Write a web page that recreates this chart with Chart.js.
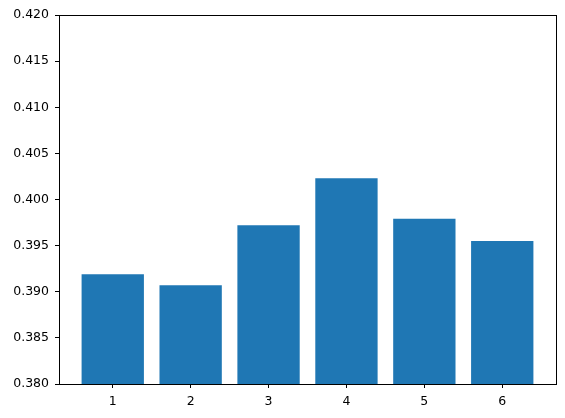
<!DOCTYPE html>
<html>
<head>
  <script src="https://cdn.jsdelivr.net/npm/chart.js@4/dist/chart.umd.min.js"></script>
  <style>
    body { margin: 0; background: #fff; }
    #wrap { width: 565px; height: 418px; }
  </style>
</head>
<body>
<div id="wrap"><canvas id="chartCanvas"></canvas></div>
<script>
  // values
  const categories = [1, 2, 3, 4, 5, 6];
  const values = [0.3919, 0.3907, 0.3972, 0.4023, 0.3979, 0.3955];
  const yTicks = [0.380, 0.385, 0.390, 0.395, 0.400, 0.405, 0.410, 0.415, 0.420];

  // matplotlib-style box around the plot area
  const frame = {
    id: 'frame',
    afterDraw(chart) {
      const a = chart.chartArea, ctx = chart.ctx;
      ctx.save();
      ctx.strokeStyle = '#000';
      ctx.lineWidth = 1;
      ctx.strokeRect(Math.round(a.left) + 0.5, Math.round(a.top) + 0.5,
                     Math.round(a.right - a.left), Math.round(a.bottom - a.top));
      ctx.restore();
    }
  };

  const font = { family: 'DejaVu Sans', size: 12.5 };

  new Chart(document.getElementById('chartCanvas'), {
    type: 'bar',
    data: {
      datasets: [{
        data: categories.map((c, i) => ({ x: c, y: values[i] })),
        backgroundColor: '#1f77b4',
        borderWidth: 0,
        categoryPercentage: 1,
        barPercentage: 0.8
      }]
    },
    options: {
      responsive: true,
      maintainAspectRatio: false,
      animation: false,
      layout: { padding: { top: 15, right: 9, left: 0, bottom: 0 } },
      plugins: { legend: { display: false }, tooltip: { enabled: false } },
      scales: {
        x: {
          type: 'linear',
          offset: false,
          min: 0.31,
          max: 6.69,
          afterBuildTicks: s => { s.ticks = categories.map(v => ({ value: v })); },
          afterFit: s => { s.height = 34; },
          grid: { offset: false, drawOnChartArea: false, drawTicks: true, tickLength: 4, color: '#000' },
          border: { display: true, color: '#000' },
          ticks: { color: '#000', font: font, padding: 6, callback: v => String(v) }
        },
        y: {
          min: 0.38,
          max: 0.42,
          afterBuildTicks: s => { s.ticks = yTicks.map(v => ({ value: v })); },
          afterFit: s => { s.width = 59; },
          grid: { drawOnChartArea: false, drawTicks: true, tickLength: 4, color: '#000' },
          border: { display: true, color: '#000' },
          ticks: { color: '#000', font: font, padding: 6, callback: v => v.toFixed(3) }
        }
      }
    },
    plugins: [frame]
  });
</script>
</body>
</html>
